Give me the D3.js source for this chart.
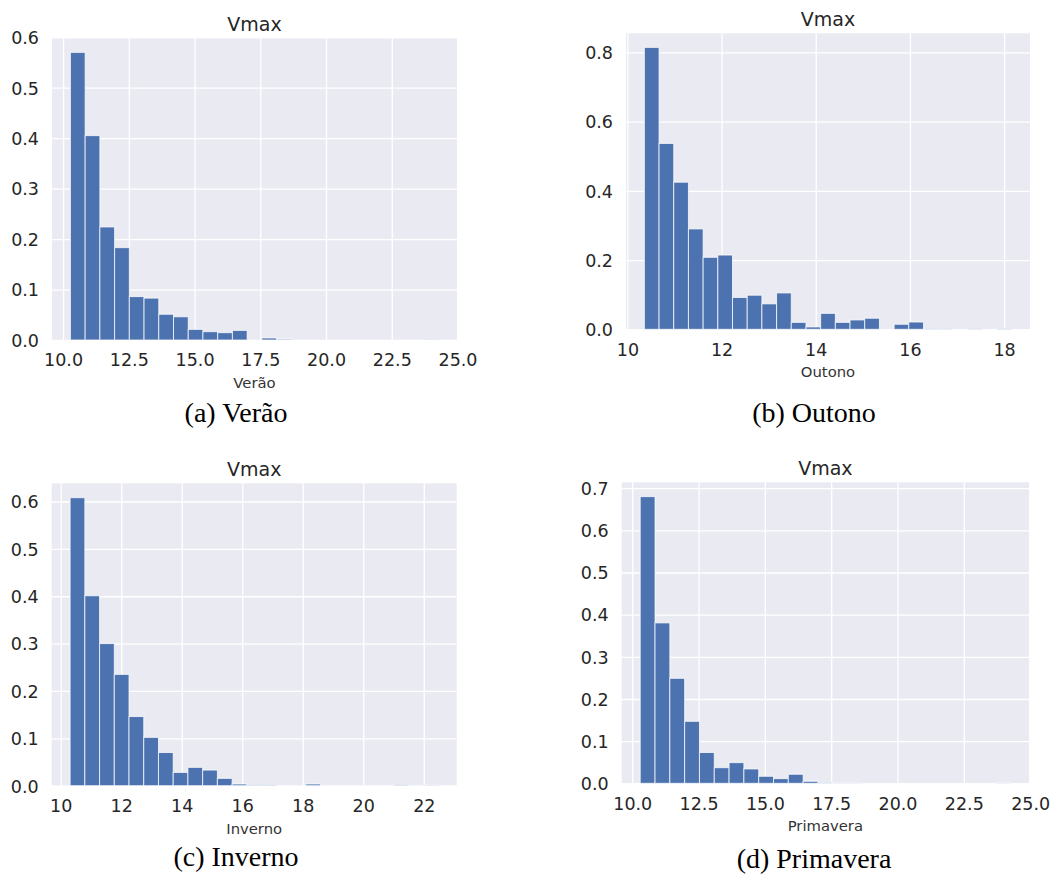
<!DOCTYPE html>
<html>
<head>
<meta charset="utf-8">
<script src="https://cdn.jsdelivr.net/npm/d3@7"></script>
<style>
  html, body { margin: 0; padding: 0; background: #ffffff; }
  svg { display: block; }
</style>
</head>
<body>
<svg id="chart" width="1053" height="875"></svg>
<script>
// ---------------- data ----------------
const titleText = "Vmax";
const seasonLabels = ["Verão", "Outono", "Inverno", "Primavera"];
const captions = ["(a) Verão", "(b) Outono", "(c) Inverno", "(d) Primavera"];

// histogram bin range (min, max of data), 25 bins each
const binRangeVerao = [10.28, 24.28];
const binRangeOutono = [10.36, 18.16];
const binRangeInverno = [10.31, 22.48];
const binRangePrimavera = [10.30, 24.26];

// density heights per bin
const densVerao = [0.570, 0.405, 0.224, 0.183, 0.086, 0.083, 0.051, 0.046, 0.021, 0.0165,
                   0.0145, 0.019, 0, 0.004, 0.002, 0, 0, 0, 0, 0,
                   0, 0, 0, 0, 0.0006];
const densOutono = [0.8145, 0.537, 0.425, 0.290, 0.208, 0.2145, 0.092, 0.0985, 0.0735, 0.105,
                    0.020, 0.0068, 0.046, 0.020, 0.027, 0.032, 0, 0.0145, 0.021, 0.002,
                    0.002, 0, 0.002, 0, 0.002];
const densInverno = [0.608, 0.401, 0.300, 0.235, 0.146, 0.102, 0.070, 0.028, 0.0387, 0.033,
                     0.0155, 0.0035, 0.002, 0.002, 0, 0, 0.0035, 0, 0, 0,
                     0, 0, 0.002, 0, 0.001];
const densPrimavera = [0.680, 0.3805, 0.249, 0.147, 0.073, 0.037, 0.049, 0.034, 0.0166, 0.011,
                       0.0214, 0.0047, 0.0016, 0.0005, 0.0005, 0, 0, 0, 0, 0,
                       0, 0, 0, 0, 0.0005];

// tick values
const xTicksVerao = [10, 12.5, 15, 17.5, 20, 22.5, 25];
const xTicksOutono = [10, 12, 14, 16, 18];
const xTicksInverno = [10, 12, 14, 16, 18, 20, 22];
const xTicksPrimavera = [10, 12.5, 15, 17.5, 20, 22.5, 25];
const yTicksVerao = [0, 0.1, 0.2, 0.3, 0.4, 0.5, 0.6];
const yTicksOutono = [0, 0.2, 0.4, 0.6, 0.8];
const yTicksInverno = [0, 0.1, 0.2, 0.3, 0.4, 0.5, 0.6];
const yTicksPrimavera = [0, 0.1, 0.2, 0.3, 0.4, 0.5, 0.6, 0.7];

// ---------------- layout ----------------
const panels = [
  { range: binRangeVerao, dens: densVerao, xt: xTicksVerao, yt: yTicksVerao, xfmt: ".1f",
    box: { l: 52, r: 457, t: 38, b: 340 }, cap: { x: 236, y: 422 } },
  { range: binRangeOutono, dens: densOutono, xt: xTicksOutono, yt: yTicksOutono, xfmt: "d",
    box: { l: 626, r: 1030, t: 33.3, b: 329.3 }, cap: { x: 814, y: 422 } },
  { range: binRangeInverno, dens: densInverno, xt: xTicksInverno, yt: yTicksInverno, xfmt: "d",
    box: { l: 51.7, r: 456.7, t: 483.3, b: 785.7 }, cap: { x: 236, y: 866 } },
  { range: binRangePrimavera, dens: densPrimavera, xt: xTicksPrimavera, yt: yTicksPrimavera, xfmt: ".1f",
    box: { l: 621.7, r: 1029, t: 482.3, b: 783.3 }, cap: { x: 814, y: 868 } }
];

const svg = d3.select("#chart");
const sansFont = "'DejaVu Sans', sans-serif";
const serifFont = "'Liberation Serif', 'Times New Roman', serif";

panels.forEach((p, i) => {
  const [mn, mx] = p.range;
  const span = mx - mn;
  const nb = p.dens.length;
  const bw = span / nb;
  const bins = p.dens.map((v, k) => ({ x0: mn + k * bw, x1: mn + (k + 1) * bw, v }));

  const x = d3.scaleLinear().domain([mn - 0.05 * span, mx + 0.05 * span]).range([p.box.l, p.box.r]);
  const y = d3.scaleLinear().domain([0, d3.max(p.dens) * 1.05]).range([p.box.b, p.box.t]);

  const g = svg.append("g");

  // background
  g.append("rect")
    .attr("x", p.box.l).attr("y", p.box.t)
    .attr("width", p.box.r - p.box.l).attr("height", p.box.b - p.box.t)
    .attr("fill", "#EAEAF2");

  // grid via axes
  const gx = g.append("g").attr("transform", `translate(0,${p.box.b})`)
    .call(d3.axisBottom(x).tickValues(p.xt).tickSize(-(p.box.b - p.box.t)).tickFormat(d3.format(p.xfmt)));
  gx.select(".domain").remove();
  gx.selectAll(".tick line").attr("stroke", "#ffffff").attr("stroke-width", 1.3);
  gx.selectAll(".tick text")
    .attr("y", 26.4).attr("dy", null)
    .attr("font-family", sansFont).attr("font-size", 17.5).attr("fill", "#262626");

  const gy = g.append("g").attr("transform", `translate(${p.box.l},0)`)
    .call(d3.axisLeft(y).tickValues(p.yt).tickSize(-(p.box.r - p.box.l)).tickFormat(d3.format(".1f")));
  gy.select(".domain").remove();
  gy.selectAll(".tick line").attr("stroke", "#ffffff").attr("stroke-width", 1.3);
  gy.selectAll(".tick text")
    .attr("x", -13).attr("dy", "0.36em")
    .attr("font-family", sansFont).attr("font-size", 17.5).attr("fill", "#262626");
  gx.attr("font-family", null); gy.attr("font-family", null);

  // bars
  g.append("g").selectAll("rect").data(bins).join("rect")
    .attr("x", d => x(d.x0))
    .attr("width", d => x(d.x1) - x(d.x0))
    .attr("y", d => y(d.v))
    .attr("height", d => y(0) - y(d.v))
    .attr("fill", "#4C72B0")
    .attr("stroke", "#ffffff")
    .attr("stroke-opacity", 0.75)
    .attr("stroke-width", 1);

  const cx = (p.box.l + p.box.r) / 2;
  // title
  g.append("text").attr("x", cx).attr("y", p.box.t - 7)
    .attr("text-anchor", "middle").attr("font-family", sansFont).attr("font-size", 19)
    .attr("fill", "#262626").text(titleText);
  // x label
  g.append("text").attr("x", cx).attr("y", p.box.b + 48)
    .attr("text-anchor", "middle").attr("font-family", sansFont).attr("font-size", 14.8)
    .attr("fill", "#333333").text(seasonLabels[i]);
  // caption
  svg.append("text").attr("x", p.cap.x).attr("y", p.cap.y)
    .attr("text-anchor", "middle").attr("font-family", serifFont).attr("font-size", 28)
    .attr("fill", "#000000").text(captions[i]);
});
</script>
</body>
</html>
